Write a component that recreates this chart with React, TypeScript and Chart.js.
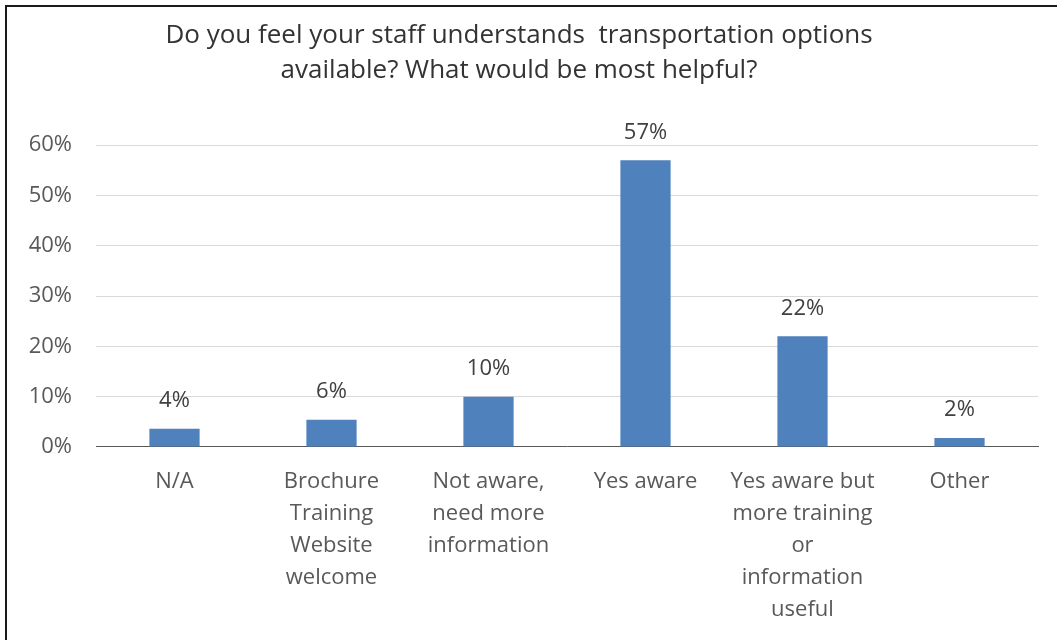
import React, { useEffect, useRef } from "react";
import { Chart, registerables } from "chart.js";

Chart.register(...registerables);

const titleLines = [
  "Do you feel your staff understands  transportation options",
  "available? What would be most helpful?",
];
const categories: string[][] = [
  ["N/A"],
  ["Brochure", "Training", "Website", "welcome"],
  ["Not aware,", "need more", "information"],
  ["Yes aware"],
  ["Yes aware but", "more training", "or", "information", "useful"],
  ["Other"],
];
const values = [3.6, 5.4, 10, 57, 22, 1.8];
const valueLabels = ["4%", "6%", "10%", "57%", "22%", "2%"];
const yTicks = [0, 10, 20, 30, 40, 50, 60];

const FONT = "'Open Sans', sans-serif";

const dataLabelPlugin = {
  id: "dataLabels",
  afterDatasetsDraw(chart: any) {
    const ctx = chart.ctx;
    const meta = chart.getDatasetMeta(0);
    ctx.save();
    ctx.font = `22px ${FONT}`;
    ctx.fillStyle = "#404040";
    ctx.textAlign = "center";
    ctx.textBaseline = "middle";
    meta.data.forEach((bar: any, i: number) => {
      ctx.fillText(valueLabels[i], bar.x, bar.y - 28);
    });
    ctx.restore();
  },
};

export default function App() {
  const ref = useRef<HTMLCanvasElement | null>(null);
  useEffect(() => {
    if (!ref.current) return;
    const chart = new Chart(ref.current, {
      type: "bar",
      data: {
        labels: categories,
        datasets: [
          {
            data: values,
            backgroundColor: "#4f81bd",
            barPercentage: 0.32,
            categoryPercentage: 1,
          },
        ],
      },
      options: {
        responsive: false,
        animation: false,
        layout: { padding: { left: 0, right: 19, top: 0, bottom: -5 } },
        plugins: {
          legend: { display: false },
          tooltip: { enabled: false },
          title: {
            display: true,
            text: titleLines,
            color: "#333333",
            font: { family: FONT, size: 26, weight: "normal", lineHeight: 1.35 },
            padding: { top: 18, bottom: 57 },
          },
        },
        scales: {
          x: {
            grid: { display: false, drawTicks: false },
            border: { color: "#595959", width: 1 },
            ticks: {
              color: "#595959",
              font: { family: FONT, size: 22, lineHeight: 1.455 },
              padding: 19,
              maxRotation: 0,
              autoSkip: false,
            },
          },
          y: {
            min: 0,
            max: 60,
            afterFit: (scale: any) => {
              scale.width = 96;
            },
            grid: { color: "#d9d9d9", drawTicks: false },
            border: { display: false },
            afterBuildTicks: (scale: any) => {
              scale.ticks = yTicks.map((v) => ({ value: v }));
            },
            ticks: {
              color: "#595959",
              font: { family: FONT, size: 22 },
              padding: 24,
              callback: (v: any) => `${v}%`,
            },
          },
        },
      },
      plugins: [dataLabelPlugin],
    });
    return () => chart.destroy();
  }, []);
  return (
    <div style={{ position: "fixed", left: 0, top: 0, width: 1057, height: 640, background: "#fff" }}>
      <canvas ref={ref} width={1057} height={640} style={{ display: "block" }} />
      <div
        style={{
          position: "absolute",
          left: 5,
          top: 5,
          width: 1100,
          height: 700,
          borderTop: "2px solid #1a1a1a",
          borderLeft: "2px solid #1a1a1a",
          pointerEvents: "none",
        }}
      />
    </div>
  );
}
